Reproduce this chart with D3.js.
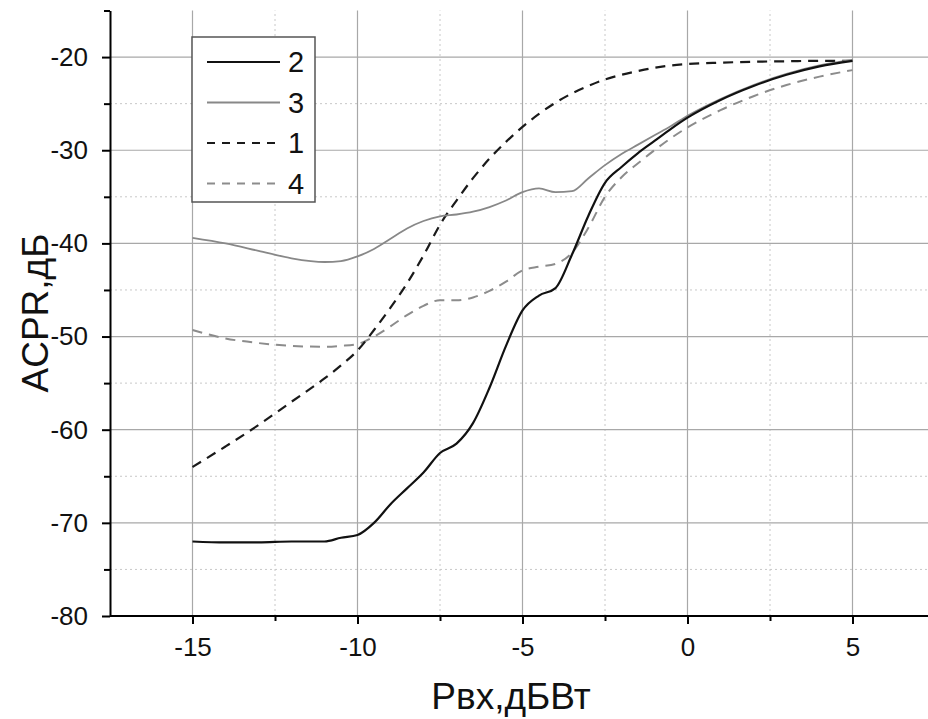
<!DOCTYPE html>
<html>
<head>
<meta charset="utf-8">
<script src="https://cdn.jsdelivr.net/npm/d3@7"></script>
<style>
body { margin: 0; background: #fff; }
svg { display: block; font-family: "Liberation Sans", Arial, sans-serif; }
</style>
</head>
<body>
<script>
// input power, dBW
var xVals = [-15,-14,-13,-12,-11,-10.5,-10,-9.5,-9,-8.5,-8,-7.5,-7,-6.5,-6,-5.5,-5,-4.5,-4,-3.5,-3,-2.5,-2,-1.5,-1,-0.5,0,1,2,3,4,5];
// ACPR, dB
var curve1 = [-64,-61.8,-59.5,-57,-54.5,-53.1,-51.5,-49.3,-46.9,-44.3,-41.3,-38,-35.4,-33,-30.9,-29.1,-27.5,-26.1,-24.9,-23.9,-23.1,-22.4,-21.9,-21.5,-21.15,-20.9,-20.75,-20.6,-20.5,-20.45,-20.4,-20.4];
var curve2 = [-72,-72.1,-72.1,-72,-72,-71.6,-71.3,-70,-68,-66.3,-64.6,-62.5,-61.5,-59.3,-55.5,-51,-47.2,-45.6,-44.8,-41.2,-37,-33.5,-31.8,-30.3,-29,-27.7,-26.5,-24.6,-23.1,-21.9,-21,-20.4];
var curve3 = [-39.4,-40,-40.8,-41.6,-42,-41.9,-41.4,-40.6,-39.5,-38.4,-37.6,-37.1,-36.9,-36.6,-36.1,-35.4,-34.5,-34.1,-34.5,-34.4,-33,-31.6,-30.4,-29.4,-28.4,-27.4,-26.3,-24.5,-23,-21.8,-20.9,-20.3];
var curve4 = [-49.3,-50.2,-50.7,-51,-51.1,-51,-50.8,-50,-48.9,-47.7,-46.7,-46.1,-46.1,-45.8,-45.1,-44.1,-42.9,-42.5,-42.2,-41,-38.3,-35,-32.9,-31.4,-30,-28.7,-27.55,-25.7,-24.2,-23,-22.1,-21.4];

var xMajor = [-15,-10,-5,0,5];
var xMinor = [-12.5,-7.5,-2.5,2.5];
var yMajor = [-80,-70,-60,-50,-40,-30,-20];
var yMinor = [-75,-65,-55,-45,-35,-25,-15];

var legendOrder = ["2","3","1","4"];

var W = 928, H = 719;
var svg = d3.select("body").append("svg").attr("width", W).attr("height", H);
svg.append("rect").attr("width", W).attr("height", H).attr("fill", "#fff");

var x = d3.scaleLinear().domain([-17.5, 7.5]).range([110, 935]);
var y = d3.scaleLinear().domain([-80, -15]).range([616, 10.5]);

// grid
var grid = svg.append("g");
grid.selectAll(".vminor").data(xMinor).enter().append("line")
  .attr("x1", d => x(d)).attr("x2", d => x(d))
  .attr("y1", y(-80)).attr("y2", y(-15))
  .attr("stroke", "#c8c8c8").attr("stroke-dasharray", "2,3");
grid.selectAll(".hminor").data(yMinor.slice(0, -1)).enter().append("line")
  .attr("x1", x(-17.5)).attr("x2", W)
  .attr("y1", d => y(d)).attr("y2", d => y(d))
  .attr("stroke", "#c8c8c8").attr("stroke-dasharray", "2,3");
grid.selectAll(".vmajor").data(xMajor).enter().append("line")
  .attr("x1", d => x(d)).attr("x2", d => x(d))
  .attr("y1", y(-80)).attr("y2", y(-15))
  .attr("stroke", "#a8a8a8").attr("stroke-width", 1.2);
grid.selectAll(".hmajor").data(yMajor.slice(1)).enter().append("line")
  .attr("x1", x(-17.5)).attr("x2", W)
  .attr("y1", d => y(d)).attr("y2", d => y(d))
  .attr("stroke", "#a8a8a8").attr("stroke-width", 1.2);

// curves
var line = d3.line()
  .x((d, i) => x(xVals[i]))
  .y(d => y(d))
  .curve(d3.curveMonotoneX);

var series = [
  {name: "2", vals: curve2, color: "#111", width: 2.2, dash: null},
  {name: "3", vals: curve3, color: "#888", width: 1.8, dash: null},
  {name: "1", vals: curve1, color: "#1a1a1a", width: 2.2, dash: "10,7"},
  {name: "4", vals: curve4, color: "#8c8c8c", width: 2, dash: "10,7"}
];

svg.append("g").selectAll("path")
  .data([series[3], series[2], series[1], series[0]]).enter().append("path")
  .attr("d", d => line(d.vals))
  .attr("fill", "none")
  .attr("stroke", d => d.color)
  .attr("stroke-width", d => d.width)
  .attr("stroke-dasharray", d => d.dash);

// axes
var fmt = d => String(d);
var xAxis = svg.append("g").attr("transform", "translate(0," + y(-80) + ")")
  .call(d3.axisBottom(x).tickValues(xMajor).tickSize(8).tickSizeOuter(0).tickPadding(14)
    .tickFormat(fmt));
svg.append("g").attr("transform", "translate(0," + y(-80) + ")")
  .call(d3.axisBottom(x).tickValues(xMinor).tickSize(5).tickSizeOuter(0).tickFormat(""))
  .select(".domain").remove();

var yAxis = svg.append("g").attr("transform", "translate(" + x(-17.5) + ",0)")
  .call(d3.axisLeft(y).tickValues(yMajor).tickSize(8).tickSizeOuter(0).tickPadding(14)
    .tickFormat(fmt));
svg.append("g").attr("transform", "translate(" + x(-17.5) + ",0)")
  .call(d3.axisLeft(y).tickValues(yMinor).tickSize(6).tickSizeOuter(0).tickFormat(""))
  .select(".domain").remove();

svg.selectAll(".domain").attr("stroke", "#000").attr("stroke-width", 2);
svg.selectAll(".tick line").attr("stroke", "#000").attr("stroke-width", 2);
svg.selectAll(".tick text")
  .attr("font-family", "'Liberation Sans', Arial, sans-serif")
  .attr("font-size", 26).attr("fill", "#111");
xAxis.select(".domain").attr("d", "M" + x(-17.5) + ",0H" + W);

// axis titles
svg.append("text")
  .attr("x", 511).attr("y", 709)
  .attr("text-anchor", "middle")
  .attr("font-family", "'Liberation Sans Narrow', 'Liberation Sans', sans-serif")
  .attr("font-size", 37).attr("fill", "#111")
  .text("Pвх,дБВт");
svg.append("text")
  .attr("transform", "translate(48,313) rotate(-90)")
  .attr("text-anchor", "middle")
  .attr("font-family", "'Liberation Sans Narrow', 'Liberation Sans', sans-serif")
  .attr("font-size", 37).attr("fill", "#111")
  .text("ACPR,дБ");

// legend
var lg = svg.append("g");
lg.append("rect").attr("x", 192).attr("y", 37).attr("width", 123).attr("height", 165)
  .attr("fill", "#fff").attr("stroke", "#555").attr("stroke-width", 1.5);
var rows = lg.selectAll(".row").data(legendOrder.map(n => series.find(s => s.name === n)))
  .enter().append("g")
  .attr("transform", (d, i) => "translate(0," + (62 + i * 40.5) + ")");
rows.append("line").attr("x1", 207).attr("x2", 280)
  .attr("stroke", d => d.color).attr("stroke-width", d => d.width)
  .attr("stroke-dasharray", d => d.dash ? "8,7" : null);
rows.append("text").attr("x", 288).attr("y", 0).attr("dy", "0.36em")
  .attr("font-size", 29).attr("fill", "#111")
  .text(d => d.name);
</script>
</body>
</html>
